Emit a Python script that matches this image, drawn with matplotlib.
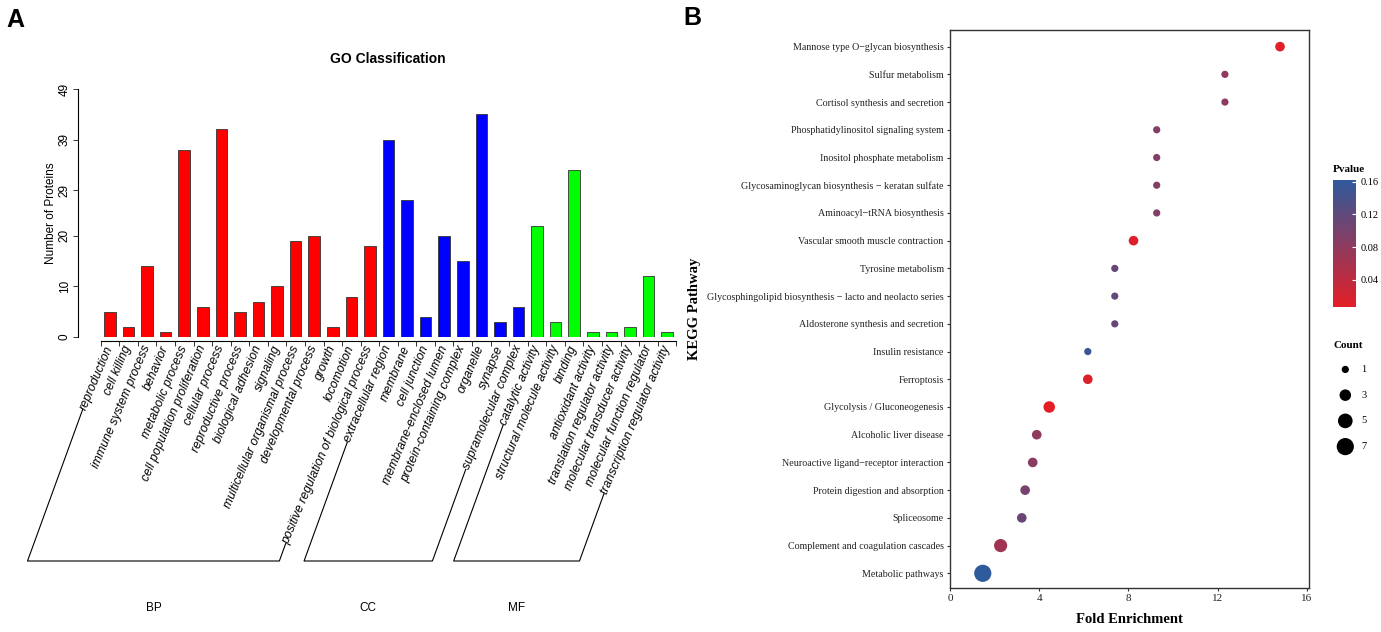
import numpy as np
import matplotlib
matplotlib.use("Agg")
from matplotlib import pyplot as plt
from matplotlib.colors import LinearSegmentedColormap
from matplotlib.lines import Line2D

# ---------------- data: GO classification ----------------
bp_terms = ["reproduction", "cell killing", "immune system process", "behavior",
            "metabolic process", "cell population proliferation", "cellular process",
            "reproductive process", "biological adhesion", "signaling",
            "multicellular organismal process", "developmental process", "growth",
            "locomotion", "positive regulation of biological process"]
bp_counts = [5, 2, 14, 1, 37, 6, 41, 5, 7, 10, 19, 20, 2, 8, 18]

cc_terms = ["extracellular region", "membrane", "cell junction", "membrane-enclosed lumen",
            "protein-containing complex", "organelle", "synapse", "supramolecular complex"]
cc_counts = [39, 27, 4, 20, 15, 44, 3, 6]

mf_terms = ["catalytic activity", "structural molecule activity", "binding",
            "antioxidant activity", "translation regulator activity",
            "molecular transducer activity", "molecular function regulator",
            "transcription regulator activity"]
mf_counts = [22, 3, 33, 1, 1, 2, 12, 1]

go_groups = ["BP", "CC", "MF"]
go_colors = ["#FF0000", "#0000FF", "#00FF00"]
y_ticks_go = [0, 10, 20, 29, 39, 49]

# ---------------- data: KEGG enrichment ----------------
pathways = ["Mannose type O\u2212glycan biosynthesis", "Sulfur metabolism",
            "Cortisol synthesis and secretion", "Phosphatidylinositol signaling system",
            "Inositol phosphate metabolism",
            "Glycosaminoglycan biosynthesis \u2212 keratan sulfate",
            "Aminoacyl\u2212tRNA biosynthesis", "Vascular smooth muscle contraction",
            "Tyrosine metabolism",
            "Glycosphingolipid biosynthesis \u2212 lacto and neolacto series",
            "Aldosterone synthesis and secretion", "Insulin resistance", "Ferroptosis",
            "Glycolysis / Gluconeogenesis", "Alcoholic liver disease",
            "Neuroactive ligand\u2212receptor interaction",
            "Protein digestion and absorption", "Spliceosome",
            "Complement and coagulation cascades", "Metabolic pathways"]
fold_enrichment = [14.8, 12.33, 12.33, 9.27, 9.27, 9.27, 9.27, 8.23, 7.39, 7.39, 7.39,
                   6.18, 6.18, 4.45, 3.89, 3.71, 3.37, 3.22, 2.27, 1.47]
counts = [2, 1, 1, 1, 1, 1, 1, 2, 1, 1, 1, 1, 2, 3, 2, 2, 2, 2, 4, 7]
pvalues = [0.01, 0.08, 0.08, 0.09, 0.09, 0.09, 0.09, 0.012, 0.115, 0.115, 0.115,
           0.15, 0.015, 0.007, 0.08, 0.085, 0.10, 0.11, 0.065, 0.162]
count_breaks = [1, 3, 5, 7]
p_ticks = [0.04, 0.08, 0.12, 0.16]

W, H = 1381, 632
fig = plt.figure(figsize=(W / 100, H / 100), dpi=100)

def fx(px):
    return px / W

def fy(py):
    return 1 - py / H

# ================= panel A =================
terms = bp_terms + cc_terms + mf_terms
values = bp_counts + cc_counts + mf_counts
sizes = [len(bp_terms), len(cc_terms), len(mf_terms)]
bar_cols = []
for c, n in zip(go_colors, sizes):
    bar_cols += [c] * n
xpos = np.arange(len(terms))

axA = fig.add_axes([fx(100.7), fy(337), fx(676.3) - fx(100.7), fy(89) - fy(337)])
axA.bar(xpos, values, width=0.62, color=bar_cols, edgecolor="#333333", linewidth=0.6)
axA.set_xlim(-0.5, len(terms) - 0.5)
axA.set_ylim(0, 49)
for s in ["top", "right"]:
    axA.spines[s].set_visible(False)
axA.spines["left"].set_position(("outward", 16.5))
axA.spines["left"].set_bounds(0, 49)
axA.spines["bottom"].set_position(("outward", 2.9))
axA.set_yticks(y_ticks_go)
axA.set_yticklabels([str(v) for v in y_ticks_go], rotation=90, va="center",
                    fontsize=8.5, family="Liberation Sans")
axA.set_xticks(np.arange(-0.5, len(terms), 1))
axA.set_xticklabels([])
axA.tick_params(axis="both", length=3.6, width=0.7, color="#333333")
axA.tick_params(axis="y", pad=1.5)
axA.set_ylabel("Number of Proteins", fontsize=8.5, family="Liberation Sans", labelpad=1)
fig.text(fx(388), fy(59), "GO Classification", ha="center", va="center",
         fontsize=10, fontweight="bold", family=["Liberation Sans Narrow", "Liberation Sans"])

label_texts = []
for i, t in enumerate(terms):
    tx = axA.annotate(t, xy=(i, 0), xycoords=("data", "axes fraction"),
                      xytext=(0, -6.5), textcoords="offset points",
                      rotation=67, ha="right", va="center", rotation_mode="anchor",
                      fontsize=8.8, style="italic", family="Liberation Sans",
                      annotation_clip=False)
    label_texts.append(tx)

fig.canvas.draw()
renderer = fig.canvas.get_renderer()
yb = 632 - 561  # bracket baseline in display px
slope = np.tan(np.radians(70))
starts = np.cumsum([0] + sizes)
for g, name in enumerate(go_groups):
    first = label_texts[starts[g]].get_window_extent(renderer)
    last = label_texts[starts[g + 1] - 1].get_window_extent(renderer)
    p1 = (first.x0 + 5, first.y0 + 2)
    p2 = (last.x0 + 5, last.y0 + 2)
    b1 = p1[0] - (p1[1] - yb) / slope
    b2 = p2[0] - (p2[1] - yb) / slope
    xs = [p1[0], b1, b2, p2[0]]
    ys = [p1[1], yb, yb, p2[1]]
    fig.add_artist(Line2D([x / W for x in xs], [y / H for y in ys],
                          transform=fig.transFigure, color="black", linewidth=0.8))
    fig.text((b1 + b2) / 2 / W, fy(608), name, ha="center", va="center", fontsize=8.5,
             family=["Liberation Sans Narrow", "Liberation Sans"])

fig.text(fx(15), fy(20), "A", ha="center", va="center", fontsize=18,
         fontweight="bold", family="Liberation Sans")
fig.text(fx(692), fy(18), "B", ha="center", va="center", fontsize=18,
         fontweight="bold", family="Liberation Sans")

# ================= panel B =================
serif = "Liberation Serif"
cmap = LinearSegmentedColormap.from_list("pv", ["#E41E26", "#2F5A9C"])
size_of = lambda c: 6 + 21 * np.asarray(c, dtype=float)

axB = fig.add_axes([fx(950), fy(588), fx(1309) - fx(950), fy(30) - fy(588)])
yk = np.arange(len(pathways))
sc = axB.scatter(fold_enrichment, yk, s=size_of(counts), c=pvalues, cmap=cmap,
                 vmin=0.007, vmax=0.162, edgecolors="none", zorder=3)
axB.set_xlim(0, 16.1)
axB.set_ylim(len(pathways) - 0.47, -0.6)
axB.set_yticks(yk)
axB.set_yticklabels(pathways, fontsize=7.2, family=serif, color="#222222")
axB.set_xticks([0, 4, 8, 12, 16])
axB.set_xticklabels(["0", "4", "8", "12", "16"], fontsize=8, family=serif, color="#222222")
axB.tick_params(length=2.5, width=0.8, color="#333333", pad=2)
for s in axB.spines.values():
    s.set_color("#333333")
    s.set_linewidth(1.0)
axB.set_xlabel("Fold Enrichment", fontsize=10.5, fontweight="bold", family=serif, labelpad=7)
fig.text(fx(695), fy(309), "KEGG Pathway", rotation=90, ha="center", va="center",
         fontsize=10.5, fontweight="bold", family=serif)

# colour bar
cax = fig.add_axes([fx(1333), fy(307), fx(1356) - fx(1333), fy(180) - fy(307)])
cb = fig.colorbar(sc, cax=cax, ticks=p_ticks)
cb.outline.set_visible(False)
cb.ax.tick_params(length=3, width=0.8, color="white", direction="in", labelsize=7.5, pad=3)
for lab in cb.ax.get_yticklabels():
    lab.set_family(serif)
fig.text(fx(1333), fy(169), "Pvalue", ha="left", va="center", fontsize=8,
         fontweight="bold", family=serif)

# size legend
fig.text(fx(1333), fy(345), "Count", ha="left", va="center", fontsize=8,
         fontweight="bold", family=serif)
lax = fig.add_axes([fx(1330), fy(460), fx(1381) - fx(1330), fy(355) - fy(460)])
lax.set_xlim(0, 1)
lax.set_ylim(len(count_breaks) - 0.5, -0.5)
lax.axis("off")
lax.scatter([0.3] * len(count_breaks), np.arange(len(count_breaks)) * 0.98 + 0.05,
            s=size_of(count_breaks), color="black", edgecolors="none")
for k, c in enumerate(count_breaks):
    lax.text(0.62, k * 0.98 + 0.05, str(c), ha="left", va="center", fontsize=7.5, family=serif)

fig.savefig("out.png", dpi=100)
